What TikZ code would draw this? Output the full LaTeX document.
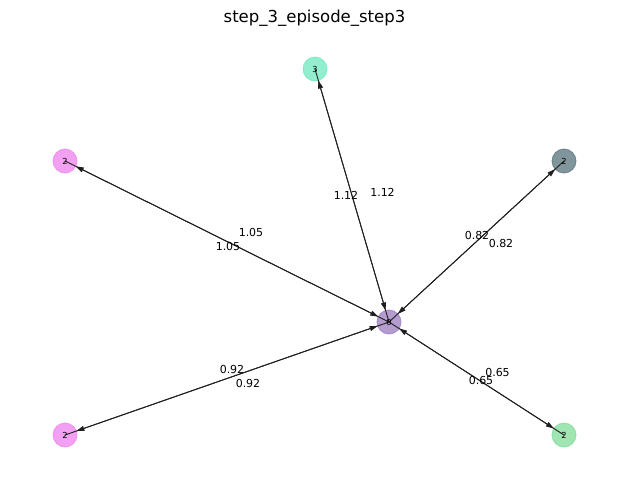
\documentclass[tikz,border=0pt]{standalone}
\usepackage{fontspec}
\setmainfont{DejaVu Sans}
\usetikzlibrary{arrows.meta}
\definecolor{caqua}{HTML}{6FE8C0}
\definecolor{cviolet}{HTML}{EE82EE}
\definecolor{cgray}{HTML}{57737B}
\definecolor{cgreen}{HTML}{80DC98}
\definecolor{cpurple}{HTML}{9B7BBF}
\tikzset{
  gnode/.style={circle, minimum size=24pt, inner sep=0pt, fill=#1, draw=#1, fill opacity=0.75, draw opacity=0.8, line width=0.8pt, text opacity=1},
  edgeline/.style={draw=black!88, line width=0.9pt},
  arr/.style={edgeline, {Triangle[length=8pt,width=5pt]}-{Triangle[length=8pt,width=5pt]}, shorten <=12pt, shorten >=12pt},
  elab/.style={font=\fontsize{11}{12}\selectfont, inner sep=0pt},
  nlab/.style={font=\fontsize{8.3}{9}\selectfont, inner sep=0pt},
}
\begin{document}
\begin{tikzpicture}[x=1pt,y=-1pt]
\useasboundingbox (0,0) rectangle (630,488);
\node[font=\fontsize{16.5}{18}\selectfont] (title) at (314.5,18) {step\_3\_episode\_step3};
\node[gnode=caqua] (n3) at (315,69) {};
\node[gnode=cviolet] (ntl) at (65,161) {};
\node[gnode=cgray] (ntr) at (564,161) {};
\node[gnode=cpurple] (n0) at (389,322) {};
\node[gnode=cviolet] (nbl) at (65,435) {};
\node[gnode=cgreen] (nbr) at (564,435) {};
\foreach \n in {n3,ntl,ntr,nbl,nbr}{
  \draw[edgeline] (n0.center) -- (\n.center);
  \draw[arr] (n0.center) -- (\n.center);
}
\node[nlab] (l3) at (n3.center) {3};
\node[nlab] (ltl) at (ntl.center) {2};
\node[nlab] (ltr) at (ntr.center) {2};
\node[nlab] (l0) at (n0.center) {0};
\node[nlab] (lbl) at (nbl.center) {2};
\node[nlab] (lbr) at (nbr.center) {2};
\node[elab] (e1a) at (346,195) {1.12};
\node[elab] (e1b) at (382.5,192) {1.12};
\node[elab] (e2a) at (251,232) {1.05};
\node[elab] (e2b) at (228,246) {1.05};
\node[elab] (e3a) at (477,235) {0.82};
\node[elab] (e3b) at (501,243) {0.82};
\node[elab] (e4a) at (232,369) {0.92};
\node[elab] (e4b) at (248,383) {0.92};
\node[elab] (e5a) at (497.5,372) {0.65};
\node[elab] (e5b) at (481,380) {0.65};
\end{tikzpicture}
\end{document}
